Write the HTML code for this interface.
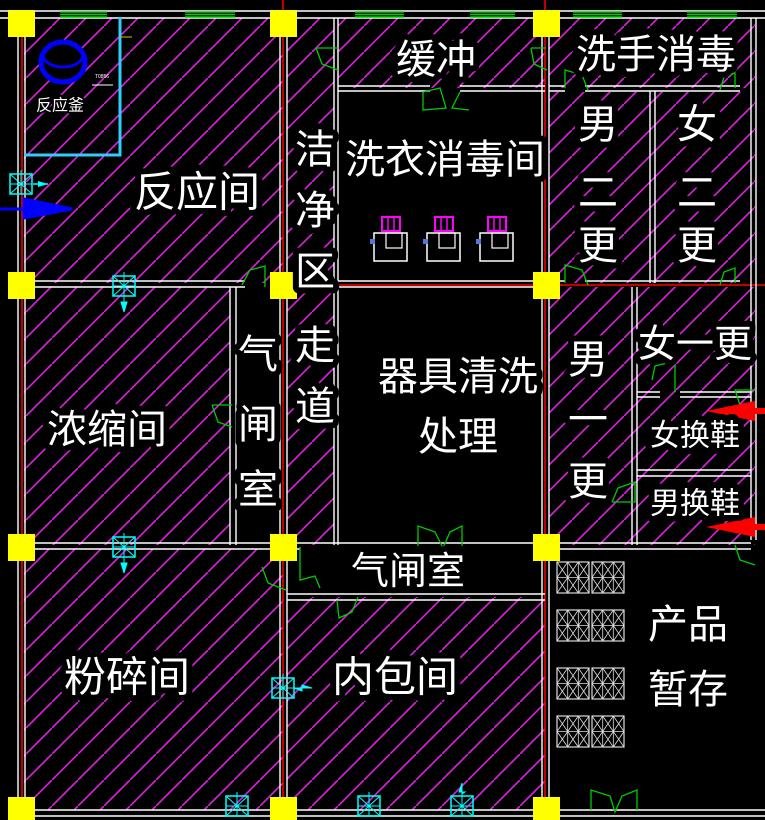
<!DOCTYPE html>
<html><head><meta charset="utf-8"><style>
html,body{margin:0;padding:0;background:#000;width:765px;height:820px;overflow:hidden;}
svg{display:block}
text{font-family:"Liberation Sans","Noto Sans CJK SC",sans-serif;fill:#fff;stroke:#000;stroke-width:12px;stroke-linejoin:round;paint-order:stroke;text-anchor:middle;dominant-baseline:central}
</style></head><body>
<svg width="765" height="820" viewBox="0 0 765 820" xmlns="http://www.w3.org/2000/svg">
<defs>
<pattern id="h" width="26" height="26" patternUnits="userSpaceOnUse">
<line x1="-2" y1="28" x2="28" y2="-2" stroke="#e020e0" stroke-width="1.6"/>
</pattern>
<g id="vent"><rect x="-11" y="-10" width="22" height="20" fill="none" stroke="#0ff" stroke-width="1.5"/><path d="M-11 -10L11 10M11 -10L-11 10M0 -14V10M-11 0H11" stroke="#0ff" stroke-width="1"/></g>
<g id="rack"><rect x="0" y="0" width="32" height="31" fill="none" stroke="#ddd" stroke-width="1.2"/><path d="M0 15.5H32M10.7 0V31M21.3 0V31M0 0L10.7 15.5M10.7 0L0 15.5M10.7 0L21.3 15.5M21.3 0L10.7 15.5M21.3 0L32 15.5M32 0L21.3 15.5M0 15.5L10.7 31M10.7 15.5L0 31M10.7 15.5L21.3 31M21.3 15.5L10.7 31M21.3 15.5L32 31M32 15.5L21.3 31" stroke="#ddd" stroke-width="0.8"/></g>
<g id="mach"><rect x="0" y="0" width="33" height="28" fill="none" stroke="#fff" stroke-width="1.5"/><rect x="12" y="0" width="16" height="15" fill="none" stroke="#fff" stroke-width="1.2"/><rect x="8" y="-16" width="18" height="14" fill="none" stroke="#f0f" stroke-width="2"/><path d="M14 -16V-2M20 -16V-2" stroke="#f0f" stroke-width="1.5"/><rect x="-4" y="6" width="5" height="5" fill="#5577dd"/></g>
</defs>
<rect width="765" height="820" fill="#000"/>
<g fill="url(#h)">
<rect x="24" y="18" width="259" height="265"/>
<rect x="287" y="18" width="47" height="527"/>
<rect x="338" y="18" width="207" height="70"/>
<rect x="549" y="18" width="206" height="70"/>
<rect x="549" y="92" width="206" height="191"/>
<rect x="549" y="287" width="206" height="258"/>
<rect x="24" y="287" width="206" height="258"/>
<rect x="24" y="549" width="259" height="261"/>
<rect x="287" y="597" width="258" height="213"/>
</g>
<g stroke="#f00" stroke-width="1.5">
<line x1="283" y1="0" x2="283" y2="818"/>
<line x1="545" y1="0" x2="545" y2="818"/>
<line x1="22" y1="20" x2="22" y2="810"/>
<line x1="283" y1="285" x2="765" y2="285"/>
</g>
<g stroke="#fff" stroke-width="1.4" fill="none">
<path d="M0 11H765M0 18H765"/>
<path d="M18 18V818M25 18V818"/>
<path d="M280 18V818M287 18V818"/>
<path d="M334 18V545M338 18V545"/>
<path d="M542 18V818M549 18V818"/>
<path d="M751 18V540M756 18V540"/>
<path d="M338 86H430M460 86H545M338 91H430M460 91H545"/>
<path d="M549 86H565M585 86H740M549 91H565M585 91H740"/>
<path d="M650 91V283M655 91V283"/>
<path d="M25 281H245M25 287H245M287 281H545M287 287H545M549 281H565M585 281H740"/>
<path d="M230 287V545M236 287V545"/>
<path d="M632 287V545M637 287V545M637 392H660M680 392H751M637 397H660M680 397H751M637 470H751M637 476H751"/>
<path d="M25 543H545M25 549H280M287 549H300M549 543H751M549 549H751"/>
<path d="M287 594H545M287 600H545"/>
<path d="M25 810H765M25 816H765"/>
</g>
<g stroke="#0c0" stroke-width="1.5">
<path d="M60 12H107M60 14.5H107M60 17H107M185 12H235M185 14.5H235M185 17H235M355 12H404M355 14.5H404M355 17H404M573 12H622M573 14.5H622M573 17H622M687 12H737M687 14.5H737M687 17H737M470 12H515M470 14.5H515M470 17H515"/>
</g>
<g stroke="#0c0" stroke-width="1.3" fill="none">
<path d="M316 48H338M316 48L322 64L338 70"/>
<path d="M423 92L440 88L446 108L423 110ZM460 92L452 108L469 110"/>
<path d="M531 48H546M531 48L534 64L547 70"/>
<path d="M565 88V70L582 75L588 90M735 88V73L724 77L720 90"/>
<path d="M242 285L250 270L265 266V287"/>
<path d="M565 283V265L582 270L588 285M735 283V268L724 272L720 285"/>
<path d="M212 405H232M212 405L218 422L232 427"/>
<path d="M652 380L655 366L675 361V392"/>
<path d="M612 502L618 488L635 482V502H612"/>
<path d="M735 390L740 405L755 410M735 390H755"/>
<path d="M735 545L740 560L755 565"/>
<path d="M300 547V580L315 576L320 588M262 567L268 583L286 590"/>
<path d="M337 600L339 618L352 612L358 597"/>
<path d="M418 546V526L435 532L443 548L450 532L462 526V546"/>
<path d="M591 810V790L610 796L615 812L622 796L637 790V810"/>
</g>
<g fill="#ff0">
<rect x="8" y="10" width="27" height="27"/><rect x="270" y="10" width="27" height="27"/><rect x="533" y="10" width="27" height="27"/>
<rect x="8" y="272" width="27" height="27"/><rect x="270" y="272" width="27" height="27"/><rect x="533" y="272" width="27" height="27"/>
<rect x="8" y="534" width="27" height="27"/><rect x="270" y="534" width="27" height="27"/><rect x="533" y="534" width="27" height="27"/>
<rect x="8" y="797" width="27" height="23"/><rect x="270" y="797" width="27" height="23"/><rect x="533" y="797" width="27" height="23"/>
</g>
<ellipse cx="63" cy="62" rx="22" ry="20" fill="#000" stroke="#00f" stroke-width="5"/>
<ellipse cx="63" cy="55" rx="20" ry="12" fill="none" stroke="#00f" stroke-width="3"/>
<path d="M92 85H113" stroke="#fff" stroke-width="1"/>
<path d="M120 17V155H24" fill="none" stroke="#3cf" stroke-width="3"/>
<path d="M120 37H132" stroke="#cc0" stroke-width="1"/>
<path d="M0 209H24V199L72 209L24 218V209" fill="#0000ff" stroke="#00f" stroke-width="3"/>
<path d="M706 411L755 401V421Z M706 527L755 517V537Z" fill="#f00"/>
<path d="M755 408H765V414H755ZM755 524H765V530H755Z" fill="#f00"/>
<use href="#vent" x="21" y="184"/><path d="M33 184H48" stroke="#0ff" stroke-width="1.5"/><path d="M48 184L38 181V187Z" fill="#0ff"/>
<use href="#vent" x="124" y="286"/><path d="M124 296V312L121 302H127L124 312" fill="#0ff" stroke="#0ff"/>
<use href="#vent" x="124" y="547"/><path d="M124 557V573L121 563H127L124 573" fill="#0ff" stroke="#0ff"/>
<use href="#vent" x="283" y="688"/><path d="M294 688H312L302 685V691Z" fill="#0ff" stroke="#0ff"/>
<use href="#vent" x="237" y="806"/><use href="#vent" x="369" y="806"/><use href="#vent" x="462" y="806"/>
<path d="M462 794V783L459 792H465Z" fill="#0ff" stroke="#0ff"/>
<use href="#mach" x="374" y="233"/><use href="#mach" x="427" y="233"/><use href="#mach" x="480" y="233"/>
<use href="#rack" x="557" y="562"/><use href="#rack" x="592" y="562"/>
<use href="#rack" x="557" y="610"/><use href="#rack" x="592" y="610"/>
<use href="#rack" x="557" y="668"/><use href="#rack" x="592" y="668"/>
<use href="#rack" x="557" y="716"/><use href="#rack" x="592" y="716"/>
<text x="60" y="106" font-size="16" style="stroke-width:4px">反应釜</text>
<text x="102" y="77" font-size="5" style="stroke-width:0">T0856</text>
<text x="197" y="192" font-size="42">反应间</text>
<g font-size="40">
<text x="315" y="150">洁</text><text x="315" y="211">净</text><text x="315" y="272">区</text><text x="315" y="346">走</text><text x="315" y="407">道</text>
<text x="258" y="355">气</text><text x="258" y="425">闸</text><text x="258" y="490">室</text>
<text x="598" y="125">男</text><text x="598" y="193">二</text><text x="598" y="246">更</text>
<text x="697" y="125">女</text><text x="697" y="193">二</text><text x="697" y="246">更</text>
<text x="588" y="360">男</text><text x="588" y="420">一</text><text x="588" y="482">更</text>
</g>
<text x="436" y="60" font-size="40">缓冲</text>
<text x="656" y="55" font-size="40">洗手消毒</text>
<text x="445" y="160" font-size="40">洗衣消毒间</text>
<text x="458" y="377" font-size="40">器具清洗</text>
<text x="458" y="437" font-size="40">处理</text>
<text x="695" y="345" font-size="38">女一更</text>
<text x="695" y="436" font-size="30">女换鞋</text>
<text x="695" y="504" font-size="30">男换鞋</text>
<text x="107" y="430" font-size="40">浓缩间</text>
<text x="408" y="572" font-size="38">气闸室</text>
<text x="688" y="625" font-size="40">产品</text>
<text x="688" y="690" font-size="40">暂存</text>
<text x="127" y="677" font-size="42">粉碎间</text>
<text x="395" y="677" font-size="42">内包间</text>
</svg>
</body></html>
